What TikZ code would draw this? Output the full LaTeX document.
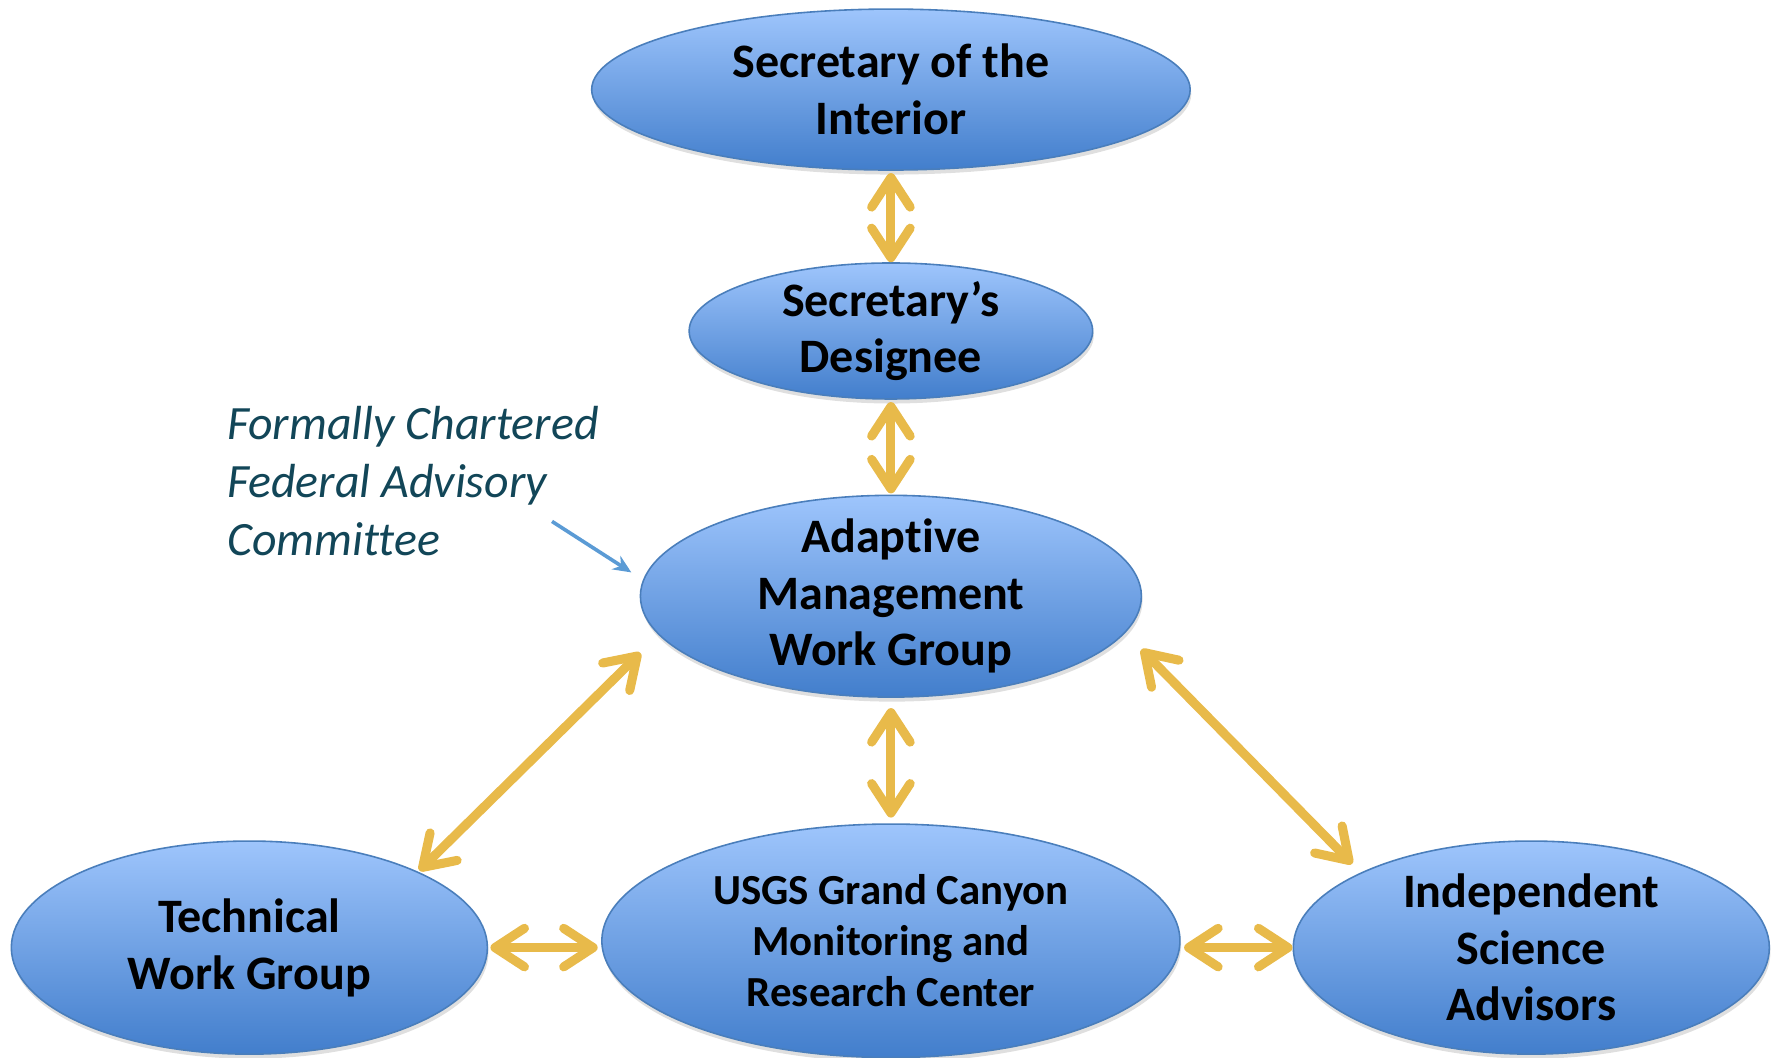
\documentclass[tikz,border=0pt]{standalone}
\usepackage{fontspec}
\setmainfont{Carlito}[Ligatures=NoCommon]
\usetikzlibrary{arrows.meta,shapes.geometric,shadows,calc}
\definecolor{arrowyellow}{RGB}{232,186,74}
\definecolor{topblue}{RGB}{158,197,252}
\definecolor{botblue}{RGB}{66,126,204}
\definecolor{edgeblue}{RGB}{74,126,187}
\definecolor{noteteal}{RGB}{18,70,88}
\definecolor{notearrow}{RGB}{91,155,213}
\tikzset{
  ybarb/.tip={Straight Barb[length=13pt,width=17pt,round]},
}
\begin{document}
\begin{tikzpicture}[x=0.5pt,y=-0.5pt,
  bubble/.style={ellipse, draw=edgeblue, line width=0.7pt,
    top color=topblue, bottom color=botblue, inner sep=-10pt, align=center,
    font=\fontsize{21.2}{25}\selectfont\bfseries,
    drop shadow={shadow xshift=0.5pt, shadow yshift=-2pt, opacity=0.25}},
  smallbubble/.style={bubble, font=\fontsize{18.9}{22.5}\selectfont\bfseries},
  link/.style={draw=arrowyellow, line width=4pt, ybarb-ybarb},
]
\useasboundingbox (0,0) rectangle (1566,933);

\node[bubble, minimum width=264pt, minimum height=71pt] (sec) at (786,79) {Secretary of the\\Interior};
\node[bubble, minimum width=178pt, minimum height=60pt] (des) at (786,292) {Secretary’s\\Designee};
\node[bubble, minimum width=221pt, minimum height=89pt] (amwg) at (786,526) {Adaptive\\Management\\Work Group};
\node[bubble, minimum width=210pt, minimum height=94pt] (tech) at (220,836) {Technical\\Work Group};
\node[smallbubble, minimum width=255pt, minimum height=103pt] (usgs) at (786,830) {USGS Grand Canyon\\Monitoring and\\Research Center};
\node[bubble, minimum width=210pt, minimum height=94pt] (isa) at (1351,836) {Independent\\Science\\Advisors};

\node[anchor=base west, inner sep=0pt, align=left, text=noteteal,
  font=\fontsize{21.1}{25.5}\selectfont\itshape] (note) at (200,490)
  {Formally Chartered\\Federal Advisory\\Committee};
\coordinate (notetail) at (487,460);

\draw[link] ($(sec.south)+(0,2)$) -- (des.north);
\draw[link] ($(des.south)+(0,2)$) -- ($(amwg.north)+(0,-1)$);
\draw[link] ($(amwg.south)+(0,9)$) -- ($(usgs.north)+(0,-5)$);
\draw[link] ($(amwg)+(-221,50)$) -- ($(tech)+(150,-68)$);
\draw[link] ($(amwg)+(221,47)$) -- ($(isa)+(-158,-74)$);
\draw[link] ($(tech.east)+(2,0)$) -- ($(usgs.west |- tech.east)+(-3,0)$);
\draw[link] ($(usgs.east |- isa.west)+(3,0)$) -- (isa.west);

\draw[notearrow, line width=1.6pt, -{Stealth[length=8pt,width=7pt]}] (notetail) -- ($(amwg)+(-229,-21)$);
\end{tikzpicture}
\end{document}
